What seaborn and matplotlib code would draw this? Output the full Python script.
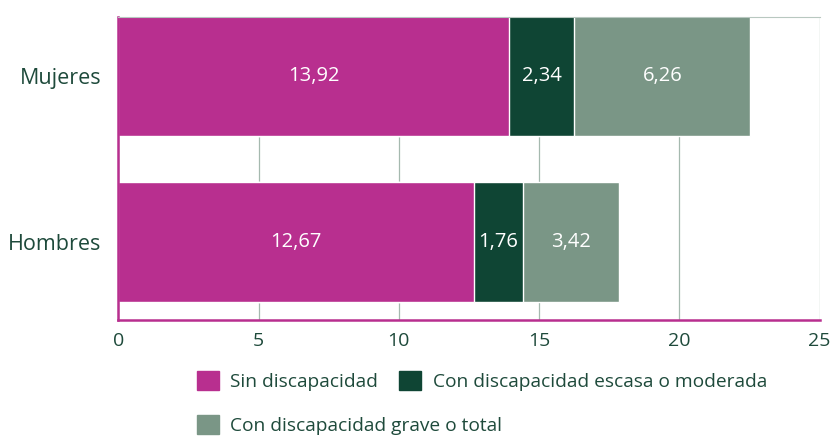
import pandas as pd
import numpy as np
import seaborn as sns
import matplotlib.pyplot as plt

# Datos
grupos = ['Mujeres', 'Hombres']
sin_disc = [13.92, 12.67]
disc_moderada = [2.34, 1.76]
disc_grave = [6.26, 3.42]

series = ['Sin discapacidad', 'Con discapacidad escasa o moderada', 'Con discapacidad grave o total']
colores = ['#B82F8F', '#0F4534', '#7A9686']
texto = '#1E4A3B'

df = pd.DataFrame({'grupo': grupos, series[0]: sin_disc,
                   series[1]: disc_moderada, series[2]: disc_grave})

sns.set_style('white')
plt.rcParams['font.family'] = ['Open Sans', 'DejaVu Sans']

fig, ax = plt.subplots(figsize=(8.33, 4.4), dpi=100)
fig.subplots_adjust(left=0.142, right=0.984, top=0.961, bottom=0.273)

# Barras apiladas: se dibuja el acumulado de mayor a menor
acum = df[series].cumsum(axis=1)
handles = {}
for i in reversed(range(len(series))):
    sns.barplot(x=acum[series[i]], y=df['grupo'], color=colores[i], orient='h',
                width=0.72, ax=ax, saturation=1, zorder=2)
    handles[series[i]] = plt.Rectangle((0, 0), 1, 1, color=colores[i])

# Etiquetas de valores
for j in range(len(grupos)):
    izq = 0
    for s in series:
        v = df.loc[j, s]
        ax.text(izq + v / 2, j, f'{v:.2f}'.replace('.', ','), ha='center', va='center',
                color='white', fontsize=14.5, zorder=3)
        izq += v

ax.set_xlim(0, 25)
ax.set_ylim(1.47, -0.355)
ax.set_xticks(np.arange(0, 26, 5))
ax.xaxis.grid(True, color='#A5B9AF', linewidth=0.9, zorder=0)
ax.set_xlabel('')
ax.set_ylabel('')
ax.tick_params(axis='x', labelsize=14, colors=texto, length=0, pad=9)
ax.tick_params(axis='y', labelsize=15.5, colors=texto, length=0, pad=12)

for lado in ['left', 'bottom']:
    ax.spines[lado].set_color('#B82F8F')
    ax.spines[lado].set_linewidth(1.8)
ax.spines['top'].set_color('#B8C8C0')
ax.spines['right'].set_visible(False)

# Leyenda en dos filas
opts = dict(frameon=False, fontsize=13.8, handlelength=1.15, handleheight=1.15,
            columnspacing=1.1, handletextpad=0.6, borderpad=0, borderaxespad=0,
            loc='center left')
leg1 = fig.legend([handles[s] for s in series[:2]], series[:2], ncol=2,
                  bbox_to_anchor=(0.236, 0.134), **opts)
leg2 = fig.legend([handles[series[2]]], [series[2]],
                  bbox_to_anchor=(0.236, 0.034), **opts)
for leg in (leg1, leg2):
    for t in leg.get_texts():
        t.set_color(texto)

plt.savefig('out.png', dpi=100)
